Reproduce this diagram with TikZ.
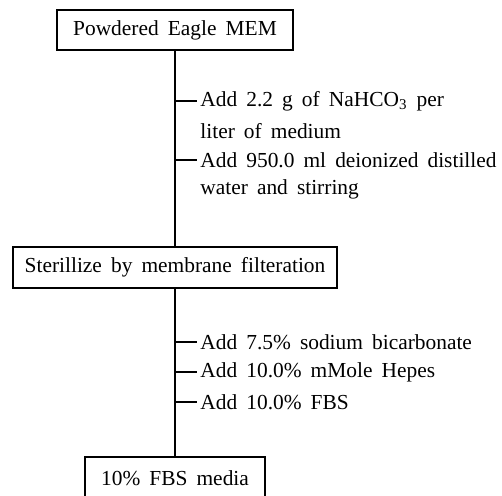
\documentclass[tikz,border=0pt]{standalone}
\usepackage{fontspec}
\setmainfont{Liberation Serif}[WordSpace=1.7]
\usetikzlibrary{positioning}
\tikzset{%
  stepbox/.style = {shape=rectangle, draw, line width=0.7pt,%
                    inner sep=0pt, align=center},%
  note/.style    = {anchor=west, inner sep=1.5pt},%
  stem/.style    = {line width=0.8pt}%
}

\begin{document}
\begin{tikzpicture}[x=0.5pt, y=-0.5pt, every node/.style = {font=\fontsize{10.7}{12.8}\selectfont}]%
	\useasboundingbox (0,0) rectangle (502,495);
	\clip (0,0) rectangle (502,495);
	% steps
	\node[stepbox, minimum width=118pt, minimum height=20pt] (mem) at (175,30) {Powdered Eagle MEM};%
	\node[stepbox, minimum width=162pt, minimum height=20.5pt] (filter) at (175,267.5) {Sterillize by membrane filteration};%
	\node[stepbox, minimum width=90pt, minimum height=21pt] (media) at (175,478) {10\% FBS media};%
	% what is added
	\node[note] (nahco) at (197,101) {Add 2.2 g of NaHCO\textsubscript{3} per};%
	\node[note] (liter) at (197,131) {liter of medium};%
	\node[note] (water) at (197,160) {Add 950.0 ml deionized distilled};%
	\node[note] (stir)  at (197,189) {water and stirring};%
	\node[note] (soda)  at (197,342) {Add 7.5\% sodium bicarbonate};%
	\node[note] (hepes) at (197,372) {Add 10.0\% mMole Hepes};%
	\node[note] (fbs)   at (197,402) {Add 10.0\% FBS};%
	% stems and ticks
	\draw[stem] (mem) -- (filter);%
	\draw[stem] (filter) -- (media);%
	\draw[stem] (nahco.west -| mem.south) -- (nahco.west);%
	\draw[stem] (water.west -| mem.south) -- (water.west);%
	\draw[stem] (soda.west -| mem.south) -- (soda.west);%
	\draw[stem] (hepes.west -| mem.south) -- (hepes.west);%
	\draw[stem] (fbs.west -| mem.south) -- (fbs.west);%
\end{tikzpicture}
\end{document}
